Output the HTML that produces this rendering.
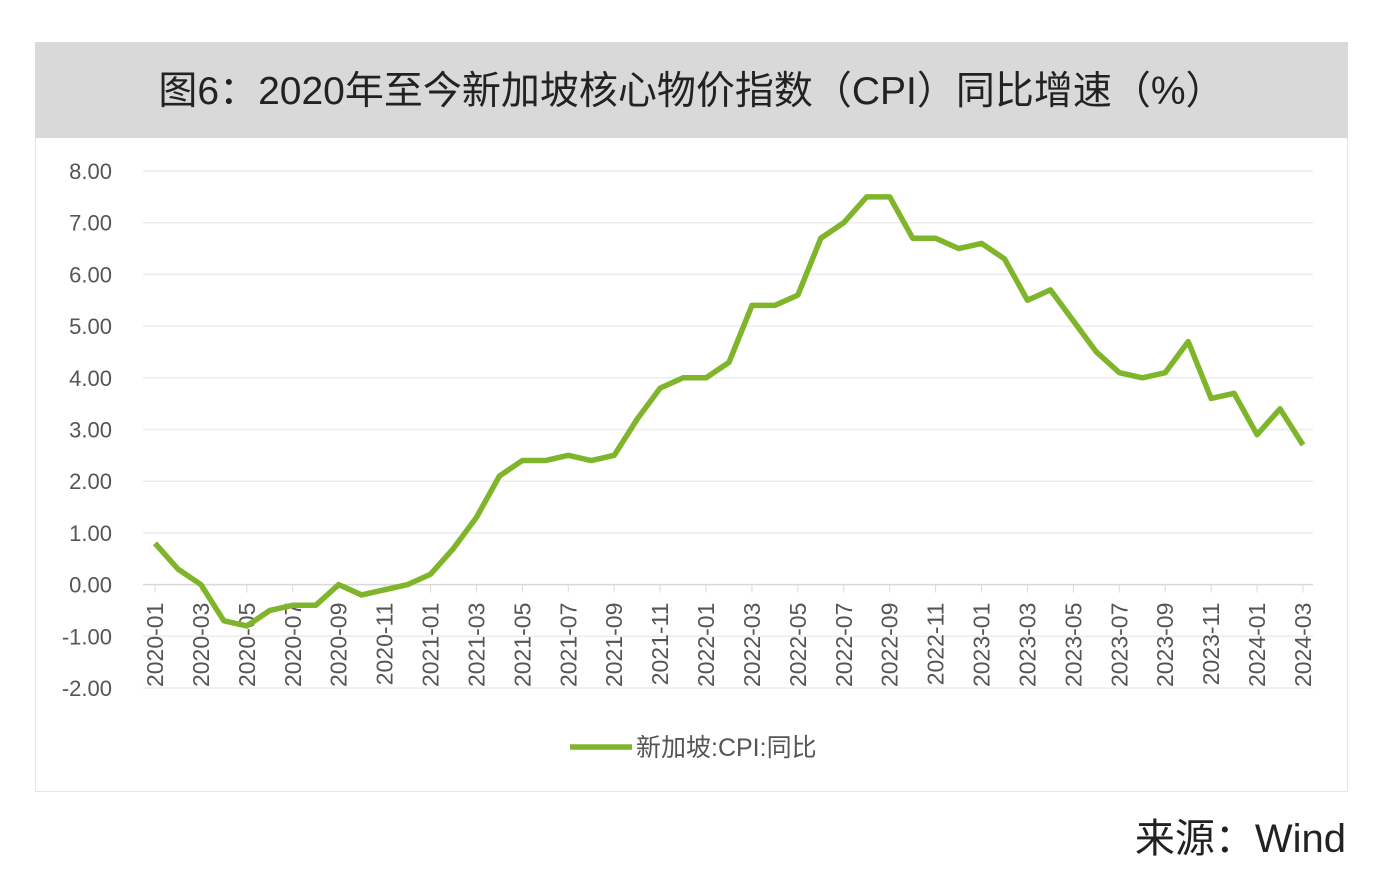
<!DOCTYPE html>
<html><head><meta charset="utf-8"><style>
body{margin:0;width:1394px;height:885px;background:#fff;overflow:hidden;font-family:"Liberation Sans","Noto Sans CJK SC",sans-serif;}
#hdr{position:absolute;left:35px;top:42px;width:1313px;height:96px;background:#d9d9d9;text-align:center;line-height:100px;font-size:39px;color:#222;}
#box{position:absolute;left:35px;top:138px;width:1311px;height:653px;border:1px solid #e6e6e6;border-top:none;}
#src{position:absolute;right:48px;top:806px;font-size:40px;color:#222;}
svg{position:absolute;left:0;top:0;}
</style></head><body>
<div id="hdr">图6：2020年至今新加坡核心物价指数（CPI）同比增速（%）</div>
<div id="box"></div>
<svg id="chart" width="1394" height="885"></svg>
<div id="src">来源：Wind</div>
<script>
const values=[0.8,0.3,0.0,-0.7,-0.8,-0.5,-0.4,-0.4,0.0,-0.2,-0.1,0.0,
0.2,0.7,1.3,2.1,2.4,2.4,2.5,2.4,2.5,3.2,3.8,4.0,
4.0,4.3,5.4,5.4,5.6,6.7,7.0,7.5,7.5,6.7,6.7,6.5,
6.6,6.3,5.5,5.7,5.1,4.5,4.1,4.0,4.1,4.7,3.6,3.7,
2.9,3.4,2.7];
const yTicks=[8,7,6,5,4,3,2,1,0,-1,-2];
const startYear=2020;
const seriesName="新加坡:CPI:同比";
const NS="http://www.w3.org/2000/svg";
const svg=document.getElementById('chart');
const x0=155,x1=1303,yTop=171,yBot=688,yMax=8,yMin=-2;
const categories=values.map((v,i)=>{const y=startYear+Math.floor(i/12),m=i%12+1;return y+'-'+(m<10?'0':'')+m;});
const xs=i=>x0+(x1-x0)*i/(values.length-1);
const ys=v=>yTop+(yMax-v)/(yMax-yMin)*(yBot-yTop);
function mk(t,a){const e=document.createElementNS(NS,t);for(const k in a)e.setAttribute(k,a[k]);svg.appendChild(e);return e;}
yTicks.forEach(t=>{
 const g=mk('line',{x1:143,x2:1313,y1:ys(t),y2:ys(t),stroke:t===0?'#d9d9d9':'#ececec','stroke-width':1.5});
 
 
 const l=mk('text',{x:112,y:ys(t)+8,'text-anchor':'end','font-size':22,fill:'#555','font-family':'Liberation Sans, sans-serif'});
 l.textContent=t.toFixed(2);
 
 
});
categories.forEach((c,i)=>{
 if(i%2)return;
 const x=xs(i),y=ys(0);
 const tk=mk('line',{x1:x,x2:x,y1:y,y2:y+8,stroke:'#d9d9d9'});
 
 
 const t=mk('text',{x:0,y:0,'text-anchor':'end','font-size':23,fill:'#555','font-family':'Liberation Sans, sans-serif',transform:`translate(${x+8},${y+18}) rotate(-90)`});
 t.textContent=c;
 
 
});
const p=mk('polyline',{points:values.map((v,i)=>xs(i)+','+ys(v)).join(' '),fill:'none',stroke:'#7fb52a','stroke-width':5.5,'stroke-linejoin':'round'});


const ll=mk('line',{x1:570,x2:632,y1:747,y2:747,stroke:'#7fb52a','stroke-width':5.5});


const lt=mk('text',{x:636,y:756,'font-size':25,fill:'#555','font-family':'Liberation Sans, Noto Sans CJK SC, sans-serif'});
lt.textContent=seriesName;


</script>
</body></html>
